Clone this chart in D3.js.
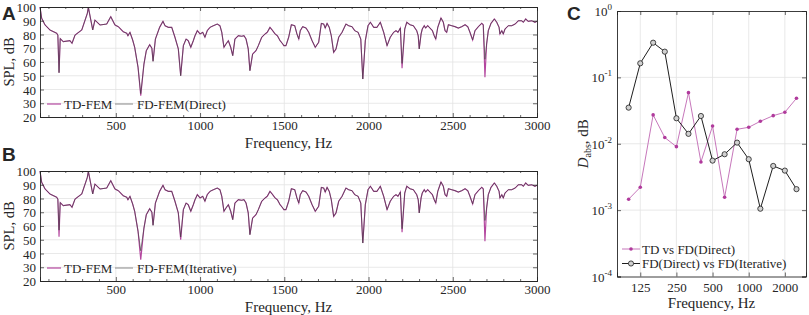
<!DOCTYPE html>
<html><head><meta charset="utf-8">
<script src="https://cdnjs.cloudflare.com/ajax/libs/d3/7.8.5/d3.min.js"></script>
<style>
html,body{margin:0;padding:0;background:#fff;}
svg{display:block;}
text{font-family:"Liberation Serif","Times New Roman",serif;fill:#262626;}
</style></head><body>
<svg id="chart" width="809" height="315"></svg>
<script>
// ---------- Data: panels A & B (SPL spectra) ----------
const freqHz = [50,60,80,109,149,156,163,170,188,228,240,258,298,331,337,363,376,406,446,470,495,515,544,565,572,584,600,612,632,648,667,681,701,714,721,735,760,780,
792,812,832,851,871,885,901,917,930,945,960,970,984,1000,1016,1029,1043,1059,1079,1102,1118,1129,1142,1154,1168,1182,1194,1207,1227,1247,1261,1273,1286,1296,1312,1332,1346,1366,1386,1399,1415,1431,1445,1459,1475,1491,
1497,1510,1526,1542,1562,1575,1586,1595,1609,1629,1645,1665,1684,1704,1720,1734,1743,1754,1767,1779,1793,1807,1823,1843,1866,1882,1902,1918,1938,1954,1966,1981,1997,2011,2031,2050,2070,2090,2110,2129,2149,2163,2175,2189,2199,2215,
2227,2246,2266,2286,2295,2301,2312,2319,2331,2339,2351,2365,2379,2390,2399,2411,2430,2444,2454,2464,2474,2494,2513,2533,2553,2573,2589,2602,2618,2632,2652,2672,2681,2691,2701,2711,2727,2747,2761,2775,2780,2791,2800,2810,2830,2850,2870,2889,2909,2919,2933,2948,2969,2988,3000];
const tdSpl = [100,91.8,86.9,83.3,80.9,79.5,52.2,77,74.8,75.5,73.6,79.6,83.3,95.4,99.8,83.3,90.5,86.9,87.6,93,86.9,85.7,82,80.9,79.1,81.6,76,70.7,56.1,35.5,58.5,68.2,72.6,70,60.5,76.7,85.2,89.6,
86.4,85.2,85.2,78,69.5,50,71.9,76.7,75.5,70.7,75.5,79.1,82.8,80.4,81.6,78,82.8,85.2,86.4,87.6,86.4,81.6,70.7,73.1,75.5,70.7,64.6,76.7,79.1,78.7,79.1,76.7,69.5,53.7,65.8,68.2,71.9,78,80.4,81.6,85.2,82.8,80.4,79.1,75.5,73.1,
71.9,71.9,78,87.1,86.4,80.4,76.7,82.8,85.7,84.7,81.6,75.5,70.7,74.3,88.1,87.6,84.7,88.1,85.2,79.1,67,69.5,78,81.6,87.6,86.4,85.7,82.8,81.6,76.7,47.6,75.5,86.4,88.9,85.2,85.2,88.9,81.6,71.9,78,81.6,82.8,81.6,84.7,55.5,84,
88.9,87.1,86.4,82.8,79.1,69.5,80.4,84,86.4,84.7,86.4,84.7,82.8,79.1,76.7,85.2,92,88.9,82.8,81.6,87.1,86.4,85.7,84.7,85.7,87.1,85.7,81.6,76,82.8,85.7,88.1,87.1,48.9,73.1,82.8,88.1,91.3,88.9,85.2,80.4,82.8,80.4,84,86.4,86.4,87.6,90,90,88.9,91.3,89.6,90,88.9,89.6];
// FD-FEM values that differ from TD-FEM (only at the sharp notches)
const fdDirectFreq = [648, 2199, 2691];
const fdDirectVal  = [37, 59, 62];
const fdIterFreq   = [163, 648, 885, 2199, 2691];
const fdIterVal    = [57, 42, 52, 58, 64];
const splTicksY = [20,30,40,50,60,70,80,90,100];
const freqTicks = [500,1000,1500,2000,2500,3000];

// ---------- Data: panel C ----------
const bandHz = [100,125,160,200,250,315,400,500,630,800,1000,1250,1600,2000,2500];
const tdVsDirect = [0.00146,0.00221,0.0272,0.0124,0.00904,0.0589,0.00532,0.0185,0.00156,0.0165,0.0177,0.0218,0.0265,0.0298,0.0484];
const directVsIter = [0.0350,0.163,0.333,0.244,0.0242,0.0141,0.0262,0.00557,0.00695,0.0104,0.00585,0.00105,0.00463,0.00394,0.00207];
const cTicksX = [125,250,500,1000,2000];
const cTicksY = [-4,-3,-2,-1,0];

const svg = d3.select("#chart");
const AX = "#262626", GRID = "#e3e3e3";
const TD_COL = "#b4479f", FD_COL = "#3a3a3a";

function applyOverrides(fr, vals, oF, oV){
  return fr.map((f,i)=>{ const k = oF.indexOf(f); return k>=0 ? oV[k] : vals[i]; });
}

function splPanel(top, fdVals, fdName){
  const L=40, R=537, T=top, B=top+110;
  const x = d3.scaleLinear().domain([50,3000]).range([L,R]);
  const y = d3.scaleLinear().domain([20,100]).range([B,T]);
  const g = svg.append("g");
  g.selectAll(".gy").data(splTicksY.slice(1,-1)).join("line")
    .attr("x1",L).attr("x2",R).attr("y1",d=>y(d)).attr("y2",d=>y(d)).attr("stroke",GRID).attr("stroke-width",0.8);
  g.selectAll(".gx").data(freqTicks.slice(0,-1)).join("line")
    .attr("y1",T).attr("y2",B).attr("x1",d=>x(d)).attr("x2",d=>x(d)).attr("stroke",GRID).attr("stroke-width",0.8);
  const pts = (vals)=>freqHz.map((f,i)=>[f,vals[i]]);
  const line = d3.line().x(d=>x(d[0])).y(d=>y(d[1]));
  g.append("path").attr("d",line(pts(tdSpl))).attr("fill","none").attr("stroke",TD_COL).attr("stroke-width",1.15);
  g.append("path").attr("d",line(pts(fdVals))).attr("fill","none").attr("stroke",FD_COL).attr("stroke-width",0.8).attr("stroke-opacity",0.75);
  const ax = d3.axisBottom(x).tickValues(freqTicks).tickSize(-4).tickPadding(4).tickFormat(d3.format("d"));
  const axT = d3.axisTop(x).tickValues(freqTicks).tickSize(-4).tickFormat("");
  const ay = d3.axisLeft(y).tickValues(splTicksY).tickSize(-4).tickPadding(4);
  const ayR = d3.axisRight(y).tickValues(splTicksY).tickSize(-4).tickFormat("");
  const minor = d3.range(100,3000,100).filter(v=>v%500!==0);
  g.append("g").attr("transform",`translate(0,${B})`).call(ax);
  g.append("g").attr("transform",`translate(0,${B})`).call(d3.axisBottom(x).tickValues(minor).tickSize(-2).tickFormat(""));
  g.append("g").attr("transform",`translate(0,${T})`).call(axT);
  g.append("g").attr("transform",`translate(0,${T})`).call(d3.axisTop(x).tickValues(minor).tickSize(-2).tickFormat(""));
  const gyl = g.append("g").attr("transform",`translate(${L},0)`).call(ay);
  g.append("g").attr("transform",`translate(${R},0)`).call(ayR);
  g.selectAll(".domain").attr("stroke",AX).attr("stroke-width",0.9);
  g.selectAll(".tick line").attr("stroke",AX).attr("stroke-width",0.7);
  g.selectAll(".tick text").attr("font-family","Liberation Serif").attr("font-size",13).attr("fill",AX);
  gyl.selectAll(".tick text").attr("dy","0.35em");
  g.append("text").attr("x",(L+R)/2).attr("y",B+31).attr("text-anchor","middle").attr("font-size",15).text("Frequency, Hz");
  g.append("text").attr("transform",`translate(14,${(T+B)/2}) rotate(-90)`).attr("text-anchor","middle").attr("font-size",14.5).text("SPL, dB");
  const ly = T+97;
  g.append("line").attr("x1",47).attr("x2",61).attr("y1",ly).attr("y2",ly).attr("stroke",TD_COL).attr("stroke-width",1.2);
  g.append("text").attr("x",64).attr("y",ly+4.5).attr("font-size",13).text("TD-FEM");
  g.append("line").attr("x1",115).attr("x2",133).attr("y1",ly).attr("y2",ly).attr("stroke","#8a8a8a").attr("stroke-width",1);
  g.append("text").attr("x",137).attr("y",ly+4.5).attr("font-size",13).text(fdName);
}

splPanel(7, applyOverrides(freqHz, tdSpl, fdDirectFreq, fdDirectVal), "FD-FEM(Direct)");
splPanel(171, applyOverrides(freqHz, tdSpl, fdIterFreq, fdIterVal), "FD-FEM(Iterative)");

// ---------- Panel C ----------
(function(){
  const L=617, R=806, T=11, B=276.5;
  const x = d3.scaleLog().domain([80,3000]).range([L,R]);
  const y = d3.scaleLog().domain([1e-4,1]).range([B,T]);
  const g = svg.append("g");
  g.selectAll(".gy").data([-3,-2,-1]).join("line")
    .attr("x1",L).attr("x2",R).attr("y1",d=>y(Math.pow(10,d))).attr("y2",d=>y(Math.pow(10,d))).attr("stroke",GRID).attr("stroke-width",0.8);
  g.selectAll(".gx").data(cTicksX).join("line")
    .attr("y1",T).attr("y2",B).attr("x1",d=>x(d)).attr("x2",d=>x(d)).attr("stroke",GRID).attr("stroke-width",0.8);
  const ax = d3.axisBottom(x).tickValues(cTicksX).tickSize(-4).tickPadding(6).tickFormat(d3.format("d"));
  const yTickVals = cTicksY.map(e=>Math.pow(10,e));
  const ay = d3.axisLeft(y).tickValues(yTickVals).tickSize(-4).tickFormat("");
  g.append("g").attr("transform",`translate(0,${B})`).call(ax);
  g.append("g").attr("transform",`translate(0,${T})`).call(d3.axisTop(x).tickValues(cTicksX).tickSize(-4).tickFormat(""));
  g.append("g").attr("transform",`translate(${L},0)`).call(ay);
  g.append("g").attr("transform",`translate(${R},0)`).call(d3.axisRight(y).tickValues(yTickVals).tickSize(-4).tickFormat(""));
  g.selectAll(".domain").attr("stroke",AX).attr("stroke-width",0.9);
  g.selectAll(".tick line").attr("stroke",AX).attr("stroke-width",0.7);
  g.selectAll(".tick text").attr("font-family","Liberation Serif").attr("font-size",13).attr("fill",AX);
  cTicksY.forEach(e=>{
    const t = g.append("text").attr("x",612).attr("y",y(Math.pow(10,e))+5).attr("text-anchor","end").attr("font-size",13);
    t.append("tspan").text("10");
    t.append("tspan").attr("dy",-6).attr("font-size",9).text(String(e));
  });
  const line = d3.line().x(d=>x(d[0])).y(d=>y(d[1]));
  const tdPts = bandHz.map((f,i)=>[f,tdVsDirect[i]]);
  const itPts = bandHz.map((f,i)=>[f,directVsIter[i]]);
  g.append("path").attr("d",line(tdPts)).attr("fill","none").attr("stroke","#c777bb").attr("stroke-width",1);
  g.selectAll(".mt").data(tdPts).join("circle").attr("cx",d=>x(d[0])).attr("cy",d=>y(d[1])).attr("r",1.8).attr("fill","#b03a9c");
  g.append("path").attr("d",line(itPts)).attr("fill","none").attr("stroke","#1e1e1e").attr("stroke-width",1);
  g.selectAll(".mi").data(itPts).join("circle").attr("cx",d=>x(d[0])).attr("cy",d=>y(d[1])).attr("r",2.6).attr("fill","#d0d0d0").attr("stroke","#1e1e1e").attr("stroke-width",0.8);
  g.append("text").attr("x",(L+R)/2).attr("y",B+31).attr("text-anchor","middle").attr("font-size",15).text("Frequency, Hz");
  const yl = g.append("text").attr("transform",`translate(588,${(T+B)/2}) rotate(-90)`).attr("text-anchor","middle").attr("font-size",15);
  yl.append("tspan").attr("font-style","italic").text("D");
  yl.append("tspan").attr("dy",3).attr("font-size",10).text("abs");
  yl.append("tspan").attr("dy",-3).text(", dB");
  const rows = [[249,"TD vs FD(Direct)","td"],[263.5,"FD(Direct) vs FD(Iterative)","it"]];
  rows.forEach(r=>{
    if(r[2]==="td"){
      g.append("line").attr("x1",622).attr("x2",640).attr("y1",r[0]).attr("y2",r[0]).attr("stroke","#c777bb");
      g.append("circle").attr("cx",631).attr("cy",r[0]).attr("r",1.8).attr("fill","#b03a9c");
    } else {
      g.append("line").attr("x1",622).attr("x2",640).attr("y1",r[0]).attr("y2",r[0]).attr("stroke","#1e1e1e");
      g.append("circle").attr("cx",631).attr("cy",r[0]).attr("r",2.6).attr("fill","#d0d0d0").attr("stroke","#1e1e1e").attr("stroke-width",0.8);
    }
    g.append("text").attr("x",642).attr("y",r[0]+4.5).attr("font-size",13).text(r[1]);
  });
})();

const letters = [["A",2,20],["B",2,160.5],["C",567,20]];
svg.selectAll(".lt").data(letters).join("text").attr("x",d=>d[1]).attr("y",d=>d[2])
  .attr("font-weight","bold").attr("font-size",19).attr("fill","#000")
  .style("font-family","'Liberation Sans', Arial, sans-serif").text(d=>d[0]);
</script>
</body></html>
